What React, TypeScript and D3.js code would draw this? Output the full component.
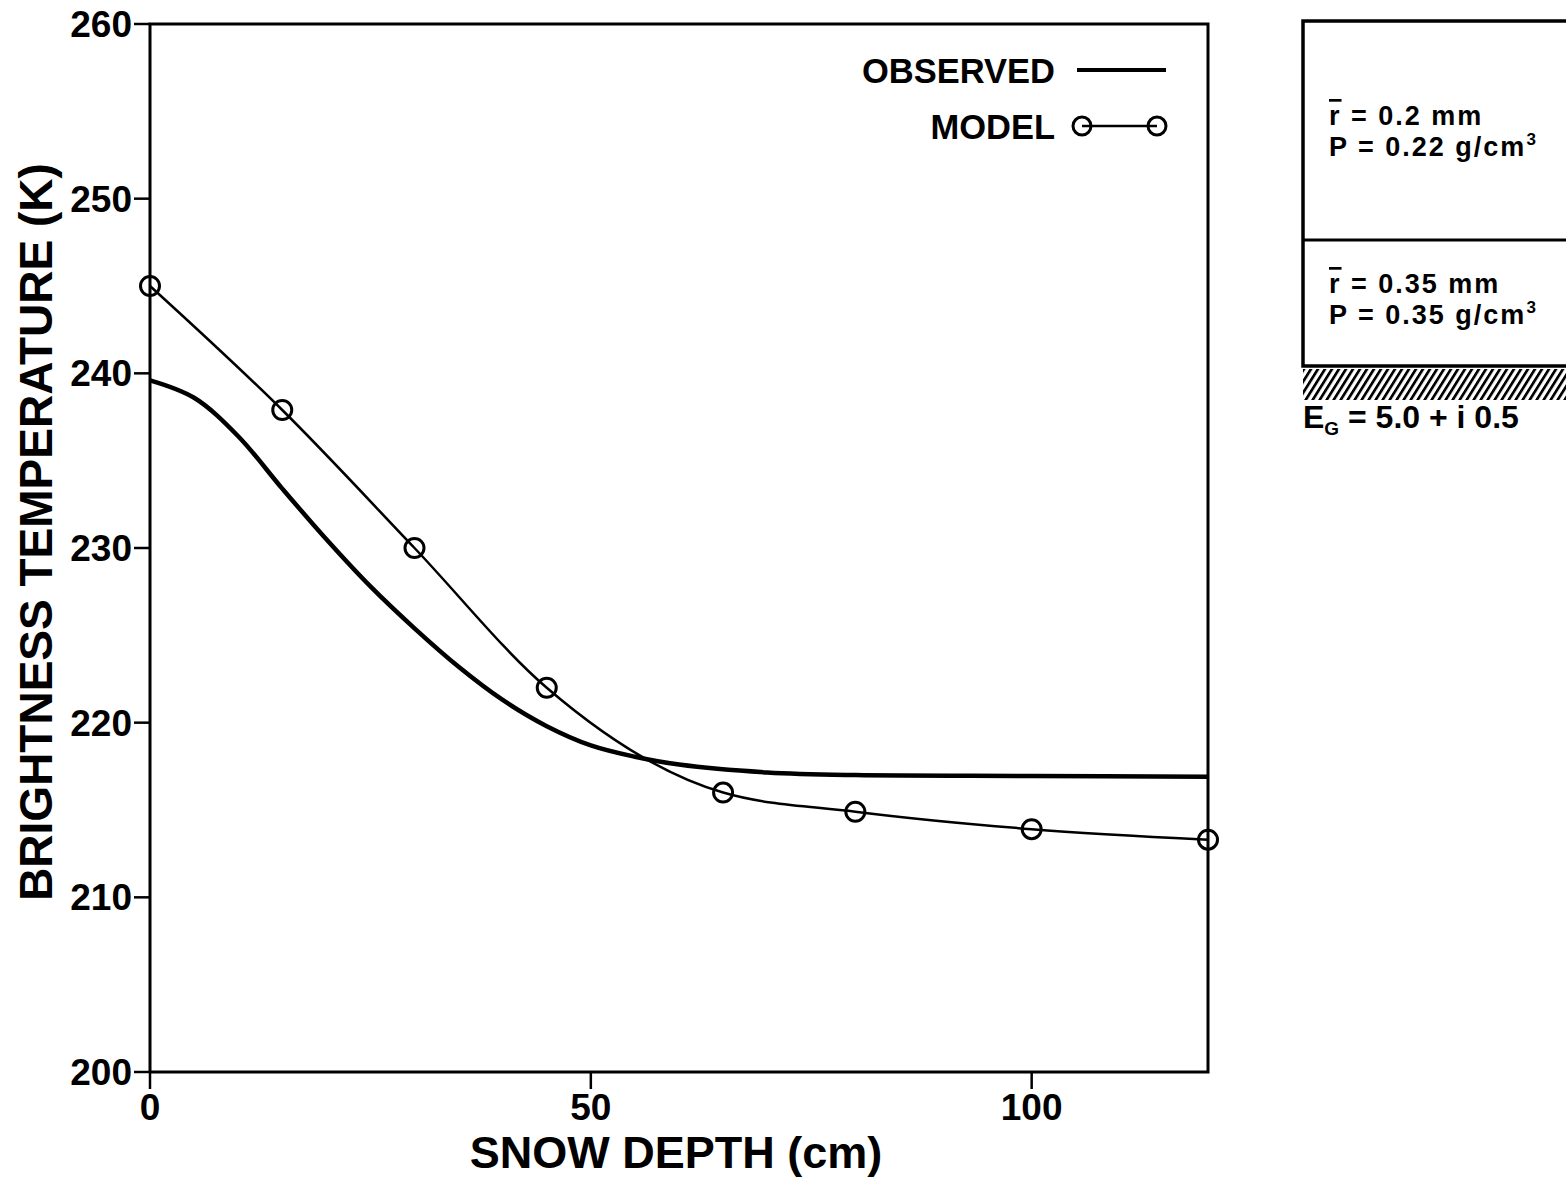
import React from "react";
import * as d3 from "d3";

const obsDepth = [0, 5, 10, 15, 20, 25, 30, 35, 40, 45, 50, 55, 60, 70, 80, 100, 120];
const obsTb = [239.6, 238.6, 236.4, 233.4, 230.5, 227.8, 225.4, 223.2, 221.3, 219.8, 218.7, 218.05, 217.6, 217.15, 217.0, 216.95, 216.9];
const modelDepth = [0, 15, 30, 45, 65, 80, 100, 120];
const modelTb = [245.0, 237.9, 230.0, 222.0, 216.0, 214.9, 213.9, 213.3];
const xTicks = [0, 50, 100];
const yTicks = [200, 210, 220, 230, 240, 250, 260];

const W = 1566;
const H = 1179;
const FONT = "'Liberation Sans', Arial, Helvetica, sans-serif";

export default function App() {
  const x = d3.scaleLinear().domain([0, 120]).range([150, 1208]);
  const y = d3.scaleLinear().domain([200, 260]).range([1072, 24]);

  const obsLine = d3
    .line<number>()
    .x((_, i) => x(obsDepth[i]))
    .y((d) => y(d))
    .curve(d3.curveCatmullRom.alpha(0.5))(obsTb) as string;
  const modelLine = d3
    .line<number>()
    .x((_, i) => x(modelDepth[i]))
    .y((d) => y(d))
    .curve(d3.curveMonotoneX)(modelTb) as string;

  const bx = 1303;
  return (
    <svg
      width={W}
      height={H}
      style={{ position: "absolute", left: 0, top: 0, background: "#fff" }}
      fontFamily={FONT}
      fontWeight="bold"
    >
      <defs>
        <pattern id="hatch" width="7" height="40" patternUnits="userSpaceOnUse" patternTransform="skewX(-32)">
          <rect x="0" y="0" width="3.2" height="40" fill="#000" />
        </pattern>
        <clipPath id="hclip">
          <rect x={bx} y={369} width={300} height={31} />
        </clipPath>
      </defs>
      <rect width={W} height={H} fill="#fff" />
      {/* frame */}
      <path d={`M150,1072 V24 H1208 V1072 H150`} fill="none" stroke="#000" strokeWidth={3} />
      {/* y ticks */}
      {yTicks.map((t) => (
        <g key={t}>
          <line x1={134} x2={150} y1={y(t)} y2={y(t)} stroke="#000" strokeWidth={2.5} />
          <text x={132} y={y(t) + 13} fontSize={37} textAnchor="end">
            {t}
          </text>
        </g>
      ))}
      {xTicks.map((t) => (
        <g key={t}>
          <line x1={x(t)} x2={x(t)} y1={1072} y2={1089} stroke="#000" strokeWidth={2.5} />
          <text x={x(t)} y={1120} fontSize={37} textAnchor="middle">
            {t}
          </text>
        </g>
      ))}
      <text x={676} y={1168} fontSize={45} textAnchor="middle">
        SNOW DEPTH (cm)
      </text>
      <text transform="translate(52,532) rotate(-90)" fontSize={46} textAnchor="middle">
        BRIGHTNESS TEMPERATURE (K)
      </text>
      {/* curves */}
      <path d={obsLine} fill="none" stroke="#000" strokeWidth={4.5} />
      <path d={modelLine} fill="none" stroke="#000" strokeWidth={2.5} />
      {modelTb.map((v, i) => (
        <circle key={i} cx={x(modelDepth[i])} cy={y(v)} r={9.5} fill="none" stroke="#000" strokeWidth={3} />
      ))}
      {/* legend */}
      <text x={1055} y={83} fontSize={34.5} textAnchor="end">
        OBSERVED
      </text>
      <line x1={1077} x2={1166} y1={70} y2={70} stroke="#000" strokeWidth={4} />
      <text x={1055} y={139} fontSize={34.5} textAnchor="end">
        MODEL
      </text>
      <line x1={1082} x2={1157} y1={126} y2={126} stroke="#000" strokeWidth={2.5} />
      <circle cx={1082} cy={126} r={9} fill="none" stroke="#000" strokeWidth={3} />
      <circle cx={1157} cy={126} r={9} fill="none" stroke="#000" strokeWidth={3} />
      {/* layer box */}
      <rect x={bx - 40} y={369} width={340} height={31} fill="url(#hatch)" clipPath="url(#hclip)" />
      <path d={`M1600,21 H${bx} V366 H1600`} fill="none" stroke="#000" strokeWidth={3.5} />
      <line x1={bx} x2={1600} y1={240} y2={240} stroke="#000" strokeWidth={3} />
      <g fontSize={27} letterSpacing={2}>
        <text x={1329} y={125}>
          <tspan textDecoration="overline">r</tspan> = 0.2 mm
        </text>
        <text x={1329} y={156}>
          P = 0.22 g/cm<tspan fontSize={17} dy={-11}>3</tspan>
        </text>
        <text x={1329} y={293}>
          <tspan textDecoration="overline">r</tspan> = 0.35 mm
        </text>
        <text x={1329} y={324}>
          P = 0.35 g/cm<tspan fontSize={17} dy={-11}>3</tspan>
        </text>
      </g>
      <text x={1303} y={428} fontSize={32}>
        E<tspan fontSize={19} dy={7}>G</tspan>
        <tspan dy={-7}> = 5.0 + i 0.5</tspan>
      </text>
    </svg>
  );
}
